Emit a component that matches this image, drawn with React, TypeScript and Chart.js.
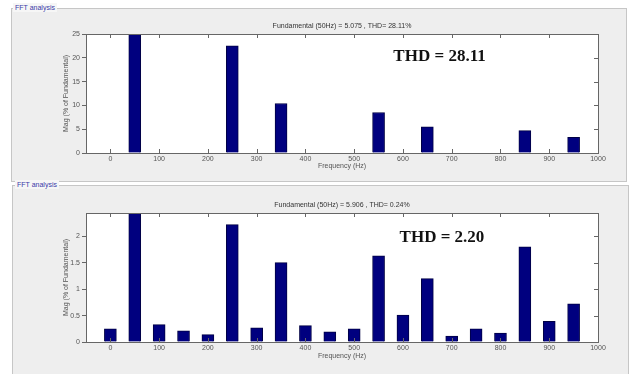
import React, { useEffect, useRef } from "react";
import { Chart, registerables } from "chart.js";

Chart.register(...registerables);

// ---------- data ----------
const X_TICKS = [0, 100, 200, 300, 400, 500, 600, 700, 800, 900, 1000];

const FREQ_TOP = [50, 250, 350, 550, 650, 850, 950];
const MAG_TOP = [100, 22.5, 10.4, 8.5, 5.5, 4.7, 3.3];
const Y_TICKS_TOP = [0, 5, 10, 15, 20, 25];
const Y_MAX_TOP = 25;
const TITLE_TOP = "Fundamental (50Hz) = 5.075 , THD= 28.11%";
const THD_TOP = "THD = 28.11";

const FREQ_BOTTOM = [0, 50, 100, 150, 200, 250, 300, 350, 400, 450, 500, 550, 600, 650, 700, 750, 800, 850, 900, 950];
const MAG_BOTTOM = [0.25, 100, 0.33, 0.21, 0.14, 2.22, 0.27, 1.5, 0.31, 0.19, 0.25, 1.63, 0.51, 1.2, 0.11, 0.25, 0.17, 1.8, 0.39, 0.72];
const Y_TICKS_BOTTOM = [0, 0.5, 1, 1.5, 2];
const Y_MAX_BOTTOM = 2.44;
const TITLE_BOTTOM = "Fundamental (50Hz) = 5.906 , THD= 0.24%";
const THD_BOTTOM = "THD = 2.20";

const PANEL_LABEL = "FFT analysis";

// ---------- plugin: white plot area, MATLAB-like box, header and THD note ----------
const framePlugin = {
  id: "matlabFrame",
  beforeDatasetsDraw(chart: any) {
    const { ctx, chartArea: a } = chart;
    ctx.save();
    ctx.fillStyle = "#ffffff";
    ctx.fillRect(a.left, a.top, a.right - a.left, a.bottom - a.top);
    ctx.restore();
  },
  afterDatasetsDraw(chart: any, _args: any, opts: any) {
    const { ctx, chartArea: a, scales } = chart;
    const xs = scales.x;
    const ys = scales.y;
    ctx.save();
    ctx.strokeStyle = "#666666";
    ctx.lineWidth = 1;
    ctx.strokeRect(Math.round(a.left) + 0.5, Math.round(a.top) + 0.5, Math.round(a.right - a.left), Math.round(a.bottom - a.top));
    ctx.beginPath();
    const tl = 4;
    X_TICKS.forEach((v) => {
      const px = Math.round(xs.getPixelForValue(v)) + 0.5;
      ctx.moveTo(px, a.top);
      ctx.lineTo(px, a.top + tl);
      ctx.moveTo(px, a.bottom);
      ctx.lineTo(px, a.bottom - tl);
    });
    (opts.yTicks || []).forEach((v: number) => {
      const py = Math.round(ys.getPixelForValue(v)) + 0.5;
      ctx.moveTo(a.right, py);
      ctx.lineTo(a.right - tl, py);
    });
    ctx.stroke();

    ctx.fillStyle = "#333333";
    ctx.font = "7px 'Liberation Sans', Arial, sans-serif";
    ctx.textAlign = "center";
    ctx.textBaseline = "middle";
    ctx.fillText(opts.title, (a.left + a.right) / 2, a.top - 7.5);

    ctx.fillStyle = "#111111";
    ctx.font = "bold 17px 'Liberation Serif', 'Times New Roman', serif";
    ctx.fillText(opts.thd, xs.getPixelForValue(opts.thdAt[0]), ys.getPixelForValue(opts.thdAt[1]));
    ctx.restore();
  },
};

type FftProps = {
  freq: number[];
  mag: number[];
  yTicks: number[];
  yMax: number;
  title: string;
  thd: string;
  thdAt: [number, number];
  width: number;
  height: number;
  padTop: number;
  padBottom: number;
  xTitlePad: number;
};

function FftChart(p: FftProps) {
  const ref = useRef<HTMLCanvasElement | null>(null);
  useEffect(() => {
    if (!ref.current) return;
    const tickFont = { family: "'Liberation Sans', Arial, sans-serif", size: 7 };
    const plain = (v: any) => String(v);
    const chart = new Chart(ref.current, {
      type: "bar",
      data: {
        datasets: [
          {
            data: p.freq.map((f, i) => ({ x: f, y: p.mag[i] })),
            backgroundColor: "#00007f",
            borderColor: "#000044",
            borderWidth: 1,
            barThickness: 12,
            clip: 0,
          } as any,
        ],
      },
      options: {
        animation: false,
        responsive: false,
        maintainAspectRatio: false,
        devicePixelRatio: 1,
        layout: { padding: { left: 0, right: 36, top: p.padTop, bottom: p.padBottom } },
        plugins: {
          legend: { display: false },
          tooltip: { enabled: false },
          matlabFrame: { title: p.title, thd: p.thd, thdAt: p.thdAt, yTicks: p.yTicks },
        } as any,
        scales: {
          x: {
            type: "linear",
            min: -50,
            max: 1000,
            offset: false,
            grid: { display: false, drawTicks: false, offset: false },
            border: { display: false },
            afterBuildTicks: (s: any) => {
              s.ticks = X_TICKS.map((v) => ({ value: v }));
            },
            afterFit: (s: any) => {
              s.height = 25;
            },
            ticks: { font: tickFont, color: "#555555", padding: 2, maxRotation: 0, autoSkip: false, callback: plain },
            title: {
              display: true,
              text: "Frequency (Hz)",
              font: tickFont,
              color: "#555555",
              padding: { top: 0, bottom: p.xTitlePad },
            },
          },
          y: {
            min: 0,
            max: p.yMax,
            grid: { display: true, drawOnChartArea: false, drawTicks: true, tickLength: 4, color: "#666666" },
            border: { display: false },
            afterBuildTicks: (s: any) => {
              s.ticks = p.yTicks.map((v) => ({ value: v }));
            },
            afterFit: (s: any) => {
              s.width = 86;
            },
            ticks: { font: tickFont, color: "#555555", padding: 2, callback: plain },
            title: {
              display: true,
              text: "Mag (% of Fundamental)",
              font: tickFont,
              color: "#555555",
              padding: { top: 62, bottom: 0 },
            },
          },
        },
      },
      plugins: [framePlugin],
    });
    return () => chart.destroy();
  }, []);
  return <canvas ref={ref} width={p.width} height={p.height} style={{ position: "absolute", left: 0, top: 0, width: p.width, height: p.height }} />;
}

function Panel(props: { left: number; top: number; width: number; height: number; labelLeft: number }) {
  return (
    <>
      <div
        style={{
          position: "absolute",
          left: props.left,
          top: props.top,
          width: props.width,
          height: props.height,
          background: "#eeeeee",
          border: "1px solid #c6c6c6",
          boxSizing: "border-box",
        }}
      />
      <div
        style={{
          position: "absolute",
          left: props.labelLeft,
          top: props.top - 5,
          fontFamily: "'Liberation Sans', Arial, sans-serif",
          fontSize: 7,
          lineHeight: "9px",
          color: "#3a3aa8",
          background: "#f6f6f6",
          padding: "0 2px",
        }}
      >
        {PANEL_LABEL}
      </div>
    </>
  );
}

export default function App() {
  return (
    <div style={{ position: "fixed", left: 0, top: 0, width: 634, height: 374, background: "#ffffff", overflow: "hidden" }}>
      <Panel left={11} top={8} width={616} height={174} labelLeft={13} />
      <Panel left={12} top={185} width={617} height={195} labelLeft={15} />
      <div style={{ position: "absolute", left: 0, top: 0, width: 634, height: 183 }}>
        <FftChart
          freq={FREQ_TOP}
          mag={MAG_TOP}
          yTicks={Y_TICKS_TOP}
          yMax={Y_MAX_TOP}
          title={TITLE_TOP}
          thd={THD_TOP}
          thdAt={[675, 20.2]}
          width={634}
          height={183}
          padTop={34}
          padBottom={5}
          xTitlePad={8}
        />
      </div>
      <div style={{ position: "absolute", left: 0, top: 183, width: 634, height: 191 }}>
        <FftChart
          freq={FREQ_BOTTOM}
          mag={MAG_BOTTOM}
          yTicks={Y_TICKS_BOTTOM}
          yMax={Y_MAX_BOTTOM}
          title={TITLE_BOTTOM}
          thd={THD_BOTTOM}
          thdAt={[680, 1.98]}
          width={634}
          height={191}
          padTop={30}
          padBottom={7}
          xTitlePad={7}
        />
      </div>
    </div>
  );
}
